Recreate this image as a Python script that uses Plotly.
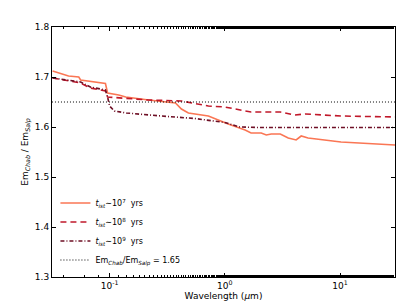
import plotly.graph_objects as go

# wavelengths (micron) and ratio values
wl_1e7 = [0.032, 0.044, 0.054, 0.056, 0.092, 0.096, 0.12, 0.138, 0.218, 0.373, 0.42, 0.483, 0.72, 1.07,
          1.50, 1.69, 2.07, 2.29, 2.53, 3.03, 3.55, 4.16, 4.60, 5.28, 10.2, 30.0]
em_1e7 = [1.712, 1.702, 1.700, 1.694, 1.687, 1.668, 1.664, 1.660, 1.654, 1.648, 1.636, 1.628, 1.622, 1.606,
          1.594, 1.588, 1.588, 1.584, 1.586, 1.586, 1.578, 1.574, 1.582, 1.578, 1.570, 1.564]

wl_1e8 = [0.032, 0.044, 0.056, 0.068, 0.092, 0.096, 0.138, 0.218, 0.42, 0.72, 1.0, 1.69, 3.03, 4.0, 5.0, 10.2, 30.0]
em_1e8 = [1.698, 1.692, 1.688, 1.678, 1.672, 1.660, 1.658, 1.654, 1.652, 1.642, 1.640, 1.630, 1.630, 1.624, 1.626, 1.622, 1.620]

wl_1e9 = [0.032, 0.044, 0.056, 0.068, 0.092, 0.096, 0.10, 0.11, 0.14, 0.28, 0.55, 1.0, 1.35, 2.0, 30.0]
em_1e9 = [1.698, 1.694, 1.690, 1.680, 1.674, 1.660, 1.642, 1.632, 1.628, 1.622, 1.617, 1.609, 1.600, 1.599, 1.599]

ref_wl = [0.0316, 30.0]
ref_em = [1.65, 1.65]

x_tickvals = [0.1, 1, 10]
x_ticktext = ["10<sup>-1</sup>", "10<sup>0</sup>", "10<sup>1</sup>"]
y_tickvals = [1.3, 1.4, 1.5, 1.6, 1.7, 1.8]

fig = go.Figure()
fig.add_trace(go.Scatter(x=wl_1e7, y=em_1e7, mode="lines",
                         line=dict(color="#FA7654", width=1.6),
                         name="<i>t</i><sub><i>ist</i></sub>∼10<sup>7</sup>  yrs"))
fig.add_trace(go.Scatter(x=wl_1e8, y=em_1e8, mode="lines",
                         line=dict(color="#C0182A", width=1.6, dash="6px,4px"),
                         name="<i>t</i><sub><i>ist</i></sub>∼10<sup>8</sup>  yrs"))
fig.add_trace(go.Scatter(x=wl_1e9, y=em_1e9, mode="lines",
                         line=dict(color="#6E0F25", width=1.6, dash="4px,2px,1px,2px"),
                         name="<i>t</i><sub><i>ist</i></sub>∼10<sup>9</sup>  yrs"))
fig.add_trace(go.Scatter(x=ref_wl, y=ref_em, mode="lines",
                         line=dict(color="black", width=1, dash="1px,2px"),
                         name="Em<sub><i>Chab</i></sub>/Em<sub><i>Salp</i></sub> = 1.65"))

fig.update_layout(
    width=407, height=308,
    margin=dict(l=44, r=20, t=19, b=39),
    paper_bgcolor="white", plot_bgcolor="white",
    font=dict(family="DejaVu Sans", size=9, color="black"),
    showlegend=True,
    legend=dict(x=0.01, y=0.01, xanchor="left", yanchor="bottom",
                bgcolor="rgba(0,0,0,0)", font=dict(size=8),
                tracegroupgap=0, itemwidth=30),
    xaxis=dict(type="log", range=[-1.5, 1.477],
               tickvals=x_tickvals, ticktext=x_ticktext,
               ticks="inside", ticklen=4, tickcolor="black",
               minor=dict(ticks="inside", ticklen=2, tickcolor="black", showgrid=False),
               showline=True, linecolor="black", linewidth=1, mirror="allticks",
               showgrid=False, zeroline=False,
               title=dict(text="Wavelength (<i>μ</i>m)", standoff=0, font=dict(size=9))),
    yaxis=dict(range=[1.3, 1.8], tickvals=y_tickvals,
               ticks="inside", ticklen=4, tickcolor="black",
               showline=True, linecolor="black", linewidth=1, mirror="allticks",
               showgrid=False, zeroline=False,
               title=dict(text="Em<sub><i>Chab</i></sub> / Em<sub><i>Salp</i></sub>", standoff=4, font=dict(size=9))),
)

fig.write_html("out.html")
